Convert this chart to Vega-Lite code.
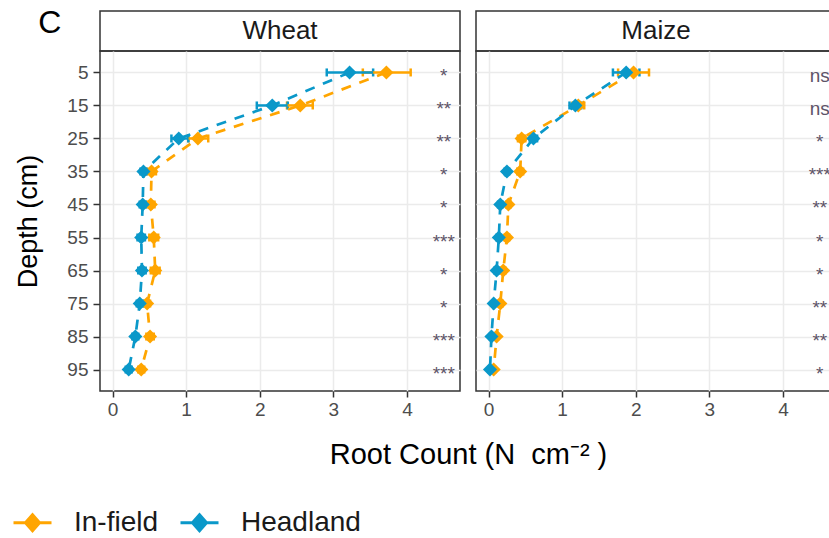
{
  "$schema": "https://vega.github.io/schema/vega-lite/v6.json",
  "padding": {"left": 12, "top": 6, "right": 0, "bottom": 0},
  "autosize": {"type": "pad"},
  "background": "white",
  "datasets": {
    "panels": [{"crop": "Wheat"}, {"crop": "Maize"}],
    "roots": [
      {"crop": "Wheat", "group": "In-field", "depth": 5, "mean": 3.72, "lo": 3.40, "hi": 4.05},
      {"crop": "Wheat", "group": "In-field", "depth": 15, "mean": 2.55, "lo": 2.37, "hi": 2.72},
      {"crop": "Wheat", "group": "In-field", "depth": 25, "mean": 1.16, "lo": 1.03, "hi": 1.30},
      {"crop": "Wheat", "group": "In-field", "depth": 35, "mean": 0.53, "lo": 0.47, "hi": 0.59},
      {"crop": "Wheat", "group": "In-field", "depth": 45, "mean": 0.52, "lo": 0.47, "hi": 0.57},
      {"crop": "Wheat", "group": "In-field", "depth": 55, "mean": 0.56, "lo": 0.50, "hi": 0.62},
      {"crop": "Wheat", "group": "In-field", "depth": 65, "mean": 0.58, "lo": 0.52, "hi": 0.64},
      {"crop": "Wheat", "group": "In-field", "depth": 75, "mean": 0.47, "lo": 0.43, "hi": 0.51},
      {"crop": "Wheat", "group": "In-field", "depth": 85, "mean": 0.51, "lo": 0.46, "hi": 0.56},
      {"crop": "Wheat", "group": "In-field", "depth": 95, "mean": 0.39, "lo": 0.35, "hi": 0.43},
      {"crop": "Maize", "group": "In-field", "depth": 5, "mean": 1.97, "lo": 1.76, "hi": 2.18},
      {"crop": "Maize", "group": "In-field", "depth": 15, "mean": 1.22, "lo": 1.14, "hi": 1.30},
      {"crop": "Maize", "group": "In-field", "depth": 25, "mean": 0.45, "lo": 0.40, "hi": 0.50},
      {"crop": "Maize", "group": "In-field", "depth": 35, "mean": 0.43, "lo": 0.39, "hi": 0.47},
      {"crop": "Maize", "group": "In-field", "depth": 45, "mean": 0.27, "lo": 0.24, "hi": 0.30},
      {"crop": "Maize", "group": "In-field", "depth": 55, "mean": 0.25, "lo": 0.22, "hi": 0.28},
      {"crop": "Maize", "group": "In-field", "depth": 65, "mean": 0.20, "lo": 0.17, "hi": 0.23},
      {"crop": "Maize", "group": "In-field", "depth": 75, "mean": 0.16, "lo": 0.13, "hi": 0.19},
      {"crop": "Maize", "group": "In-field", "depth": 85, "mean": 0.11, "lo": 0.09, "hi": 0.13},
      {"crop": "Maize", "group": "In-field", "depth": 95, "mean": 0.07, "lo": 0.05, "hi": 0.09},
      {"crop": "Wheat", "group": "Headland", "depth": 5, "mean": 3.22, "lo": 2.91, "hi": 3.54},
      {"crop": "Wheat", "group": "Headland", "depth": 15, "mean": 2.17, "lo": 1.96, "hi": 2.38},
      {"crop": "Wheat", "group": "Headland", "depth": 25, "mean": 0.90, "lo": 0.80, "hi": 1.03},
      {"crop": "Wheat", "group": "Headland", "depth": 35, "mean": 0.42, "lo": 0.38, "hi": 0.46},
      {"crop": "Wheat", "group": "Headland", "depth": 45, "mean": 0.41, "lo": 0.37, "hi": 0.45},
      {"crop": "Wheat", "group": "Headland", "depth": 55, "mean": 0.39, "lo": 0.34, "hi": 0.44},
      {"crop": "Wheat", "group": "Headland", "depth": 65, "mean": 0.40, "lo": 0.35, "hi": 0.45},
      {"crop": "Wheat", "group": "Headland", "depth": 75, "mean": 0.37, "lo": 0.33, "hi": 0.41},
      {"crop": "Wheat", "group": "Headland", "depth": 85, "mean": 0.31, "lo": 0.27, "hi": 0.35},
      {"crop": "Wheat", "group": "Headland", "depth": 95, "mean": 0.22, "lo": 0.18, "hi": 0.26},
      {"crop": "Maize", "group": "Headland", "depth": 5, "mean": 1.87, "lo": 1.69, "hi": 2.05},
      {"crop": "Maize", "group": "Headland", "depth": 15, "mean": 1.18, "lo": 1.10, "hi": 1.26},
      {"crop": "Maize", "group": "Headland", "depth": 25, "mean": 0.61, "lo": 0.56, "hi": 0.66},
      {"crop": "Maize", "group": "Headland", "depth": 35, "mean": 0.25, "lo": 0.22, "hi": 0.28},
      {"crop": "Maize", "group": "Headland", "depth": 45, "mean": 0.16, "lo": 0.13, "hi": 0.19},
      {"crop": "Maize", "group": "Headland", "depth": 55, "mean": 0.14, "lo": 0.11, "hi": 0.17},
      {"crop": "Maize", "group": "Headland", "depth": 65, "mean": 0.11, "lo": 0.08, "hi": 0.14},
      {"crop": "Maize", "group": "Headland", "depth": 75, "mean": 0.07, "lo": 0.05, "hi": 0.09},
      {"crop": "Maize", "group": "Headland", "depth": 85, "mean": 0.04, "lo": 0.02, "hi": 0.06},
      {"crop": "Maize", "group": "Headland", "depth": 95, "mean": 0.02, "lo": 0.00, "hi": 0.04}
    ],
    "sig": [
      {"crop": "Wheat", "depth": 5, "label": "*"},
      {"crop": "Wheat", "depth": 15, "label": "**"},
      {"crop": "Wheat", "depth": 25, "label": "**"},
      {"crop": "Wheat", "depth": 35, "label": "*"},
      {"crop": "Wheat", "depth": 45, "label": "*"},
      {"crop": "Wheat", "depth": 55, "label": "***"},
      {"crop": "Wheat", "depth": 65, "label": "*"},
      {"crop": "Wheat", "depth": 75, "label": "*"},
      {"crop": "Wheat", "depth": 85, "label": "***"},
      {"crop": "Wheat", "depth": 95, "label": "***"},
      {"crop": "Maize", "depth": 5, "label": "ns"},
      {"crop": "Maize", "depth": 15, "label": "ns"},
      {"crop": "Maize", "depth": 25, "label": "*"},
      {"crop": "Maize", "depth": 35, "label": "***"},
      {"crop": "Maize", "depth": 45, "label": "**"},
      {"crop": "Maize", "depth": 55, "label": "*"},
      {"crop": "Maize", "depth": 65, "label": "*"},
      {"crop": "Maize", "depth": 75, "label": "**"},
      {"crop": "Maize", "depth": 85, "label": "**"},
      {"crop": "Maize", "depth": 95, "label": "*"}
    ]
  },
  "columns": 2,
  "spacing": {"row": 0, "column": 16},
  "bounds": "flush",
  "resolve": {"scale": {"x": "independent", "y": "independent"}},
  "concat": [
    {
      "width": 360,
      "height": 40,
      "data": {"name": "panels"},
      "transform": [{"filter": "datum.crop === 'Wheat'"}],
      "title": {"text": "C", "orient": "left", "anchor": "middle", "angle": 0, "align": "center", "baseline": "alphabetic", "offset": 27, "dy": 2, "fontSize": 32, "font": "Liberation Sans", "fontWeight": "normal", "color": "#000000"},
      "view": {"stroke": "#333333", "strokeWidth": 1.5, "fill": "white"},
      "mark": {"type": "text", "fontSize": 26, "font": "Liberation Sans", "color": "#1a1a1a", "baseline": "middle"},
      "encoding": {"text": {"field": "crop", "type": "nominal"}}
    },
    {
      "width": 360,
      "height": 40,
      "data": {"name": "panels"},
      "transform": [{"filter": "datum.crop === 'Maize'"}],
      "view": {"stroke": "#333333", "strokeWidth": 1.5, "fill": "white"},
      "mark": {"type": "text", "fontSize": 26, "font": "Liberation Sans", "color": "#1a1a1a", "baseline": "middle"},
      "encoding": {"text": {"field": "crop", "type": "nominal"}}
    },
    {
      "width": 360,
      "height": 340,
      "data": {"name": "roots"},
      "transform": [{"filter": "datum.crop === 'Wheat'"}],
      "view": {"stroke": "#333333", "strokeWidth": 1.5},
      "encoding": {
        "y": {"field": "depth", "type": "quantitative", "scale": {"domain": [-1.5, 101.5], "reverse": true, "nice": false, "zero": false},
          "axis": {"values": [5, 15, 25, 35, 45, 55, 65, 75, 85, 95], "title": "Depth (cm)", "tickSize": 7, "labelPadding": 5, "titlePadding": 24, "grid": true, "gridWidth": 1.5}}
      },
      "layer": [
        {
          "mark": {"type": "errorbar", "ticks": {"size": 8, "thickness": 2.5}, "thickness": 2.5, "opacity": 1},
          "encoding": {
            "x": {"field": "lo", "type": "quantitative", "title": "Root Count (N\u00a0\u00a0cm\u207b\u00b2\u00a0)", "scale": {"domain": [-0.17, 4.72], "nice": false, "zero": false},
              "axis": {"values": [0, 0.5, 1, 1.5, 2, 2.5, 3, 3.5, 4, 4.5], "labelExpr": "datum.value % 1 === 0 ? '' + datum.value : ''", "labelFlush": false, "tickOpacity": {"condition": {"test": "datum.value % 1 !== 0", "value": 0}, "value": 1}, "gridWidth": {"condition": {"test": "datum.value % 1 !== 0", "value": 1}, "value": 1.5}, "tickSize": 6, "labelPadding": 3, "titleX": 368, "titlePadding": 21, "titleFontSize": 29, "grid": true}},
            "x2": {"field": "hi"},
            "y": {"field": "depth", "type": "quantitative"},
            "color": {"field": "group", "type": "nominal", "scale": {"domain": ["In-field", "Headland"], "range": ["#FFA500", "#0A98C9"]}}
          }
        },
        {
          "mark": {"type": "line", "strokeDash": [10, 9], "strokeWidth": 2.7},
          "encoding": {
            "x": {"field": "mean", "type": "quantitative", "title": "Root Count (N\u00a0\u00a0cm\u207b\u00b2\u00a0)"},
            "order": {"field": "depth", "type": "quantitative"},
            "color": {"field": "group", "type": "nominal"}
          }
        },
        {
          "mark": {"type": "point", "shape": "diamond", "filled": true, "size": 200, "opacity": 1},
          "encoding": {
            "x": {"field": "mean", "type": "quantitative", "title": "Root Count (N\u00a0\u00a0cm\u207b\u00b2\u00a0)"},
            "color": {"field": "group", "type": "nominal"}
          }
        },
        {
          "data": {"name": "sig"},
          "transform": [{"filter": "datum.crop === 'Wheat'"}],
          "mark": {"type": "text", "fontSize": 19, "font": "Liberation Sans", "color": "#5e5468", "baseline": "middle", "dy": 4},
          "encoding": {
            "x": {"datum": 4.5, "type": "quantitative"},
            "text": {"field": "label", "type": "nominal"}
          }
        }
      ]
    },
    {
      "width": 360,
      "height": 340,
      "data": {"name": "roots"},
      "transform": [{"filter": "datum.crop === 'Maize'"}],
      "view": {"stroke": "#333333", "strokeWidth": 1.5},
      "encoding": {
        "y": {"field": "depth", "type": "quantitative", "scale": {"domain": [-1.5, 101.5], "reverse": true, "nice": false, "zero": false},
          "axis": {"values": [5, 15, 25, 35, 45, 55, 65, 75, 85, 95], "title": null, "labels": false, "ticks": false, "grid": true, "gridWidth": 1.5}}
      },
      "layer": [
        {
          "mark": {"type": "errorbar", "ticks": {"size": 8, "thickness": 2.5}, "thickness": 2.5, "opacity": 1},
          "encoding": {
            "x": {"field": "lo", "type": "quantitative", "title": null, "scale": {"domain": [-0.17, 4.72], "nice": false, "zero": false},
              "axis": {"values": [0, 0.5, 1, 1.5, 2, 2.5, 3, 3.5, 4, 4.5], "labelExpr": "datum.value % 1 === 0 ? '' + datum.value : ''", "labelFlush": false, "tickOpacity": {"condition": {"test": "datum.value % 1 !== 0", "value": 0}, "value": 1}, "gridWidth": {"condition": {"test": "datum.value % 1 !== 0", "value": 1}, "value": 1.5}, "tickSize": 6, "labelPadding": 3, "grid": true}},
            "x2": {"field": "hi"},
            "y": {"field": "depth", "type": "quantitative"},
            "color": {"field": "group", "type": "nominal", "scale": {"domain": ["In-field", "Headland"], "range": ["#FFA500", "#0A98C9"]}}
          }
        },
        {
          "mark": {"type": "line", "strokeDash": [10, 9], "strokeWidth": 2.7},
          "encoding": {
            "x": {"field": "mean", "type": "quantitative", "title": null},
            "order": {"field": "depth", "type": "quantitative"},
            "color": {"field": "group", "type": "nominal"}
          }
        },
        {
          "mark": {"type": "point", "shape": "diamond", "filled": true, "size": 200, "opacity": 1},
          "encoding": {
            "x": {"field": "mean", "type": "quantitative", "title": null},
            "color": {"field": "group", "type": "nominal"}
          }
        },
        {
          "data": {"name": "sig"},
          "transform": [{"filter": "datum.crop === 'Maize'"}],
          "mark": {"type": "text", "fontSize": 19, "font": "Liberation Sans", "color": "#5e5468", "baseline": "middle", "dy": 4},
          "encoding": {
            "x": {"datum": 4.5, "type": "quantitative"},
            "text": {"field": "label", "type": "nominal"}
          }
        }
      ]
    }
  ],
  "config": {
    "font": "Liberation Sans",
    "view": {"stroke": "#333333"},
    "axis": {"labelFont": "Liberation Sans", "titleFont": "Liberation Sans", "labelColor": "#4d4d4d", "titleColor": "#000000", "labelFontSize": 19, "titleFontSize": 27, "titleFontWeight": "normal", "tickColor": "#333333", "tickWidth": 1.5, "domain": false, "gridColor": "#ebebeb"},
    "legend": {
      "title": null,
      "orient": "none",
      "legendX": -88,
      "legendY": 491,
      "direction": "horizontal",
      "symbolType": "M-1,0L1,0M0,-0.42L0.37,0L0,0.42L-0.37,0Z",
      "symbolSize": 1444,
      "symbolStrokeWidth": 3,
      "labelFontSize": 28,
      "labelFont": "Liberation Sans",
      "labelColor": "#1a1a1a",
      "labelOffset": 21,
      "columnPadding": 15
    }
  }
}
